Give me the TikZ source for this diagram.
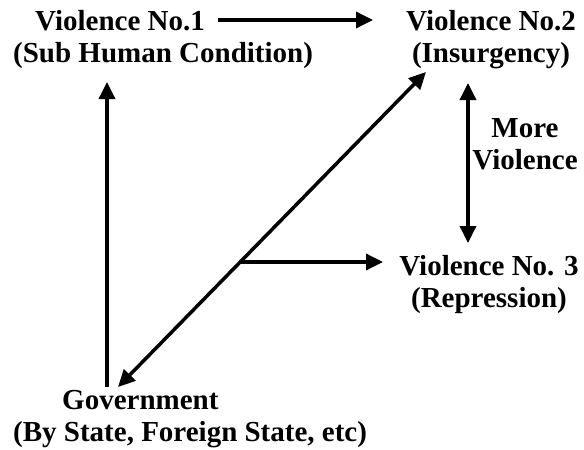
\documentclass[tikz,border=0pt]{standalone}
\usepackage{fontspec}
\setmainfont{Liberation Serif}
\usepackage{tikz}
\usetikzlibrary{arrows.meta}
\usetikzlibrary{calc}
\tikzset{>={Triangle[length=17pt,width=16pt]}}
\tikzset{lbl/.style={font=\fontsize{29}{32}\selectfont\bfseries, inner sep=0pt}}
\tikzset{arr/.style={line width=3.5pt}}

\begin{document}
\begin{tikzpicture}[x=1pt,y=-1pt]
		\useasboundingbox (0,0) rectangle (584,450);
		\node[lbl, align=left, anchor=base west] (vone) at (13,62) {\hspace{22pt}Violence No.1\\(Sub Human Condition)};
		\node[lbl, align=center, anchor=base] (vtwo) at (491,62) {Violence No.2\\(Insurgency)};
		\node[lbl, align=center, anchor=base] (vthree) at (489,307) {Violence No. 3\\(Repression)};
		\node[lbl, align=center, anchor=base] (more) at (525,169) {More\\Violence};
		\node[lbl, align=left, anchor=base west] (gov) at (13,441) {\hspace{49pt}Government\\(By State, Foreign State, etc)};
		% arrow ends
		\coordinate (a1) at (218,20);
		\coordinate (a2) at (373,20);
		\coordinate (g1) at (107,387);
		\coordinate (g2) at (107,82);
		\coordinate (d1) at (118,387);
		\coordinate (d2) at (426,72);
		\coordinate (m1) at (468,83);
		\coordinate (m2) at (468,243);
		\coordinate (b1) at (240,262);
		\coordinate (b2) at (383,262);
		\draw[arr, ->] (a1) -- (a2);
		\draw[arr, ->] (g1) -- (g2);
		\draw[arr, <->] (d1) -- (d2);
		\draw[arr, <->] (m1) -- (m2);
		\draw[arr, ->] (b1) -- (b2);
	\end{tikzpicture}
\end{document}
